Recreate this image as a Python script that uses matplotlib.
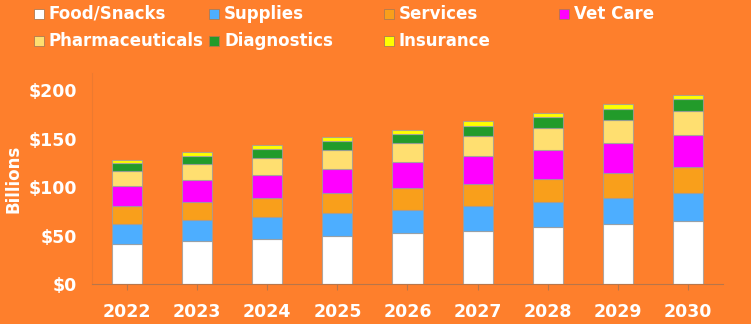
import numpy as np
import matplotlib
matplotlib.use('Agg')
import matplotlib.pyplot as plt
from matplotlib.patches import Rectangle

years = ['2022', '2023', '2024', '2025', '2026', '2027', '2028', '2029', '2030']
series = ['Food/Snacks', 'Supplies', 'Services', 'Vet Care',
          'Pharmaceuticals', 'Diagnostics', 'Insurance']

food = [41.2, 44.3, 46.4, 49.5, 52.2, 55.0, 58.4, 61.5, 64.9]
supplies = [20.7, 22.0, 22.6, 23.4, 24.4, 25.8, 26.1, 27.5, 28.9]
services = [18.5, 18.6, 20.0, 20.9, 22.4, 23.0, 24.5, 25.4, 26.8]
vet_care = [20.6, 22.3, 23.7, 25.4, 26.8, 28.2, 29.8, 31.6, 33.0]
pharma = [16.2, 16.8, 17.5, 18.9, 20.2, 20.9, 22.4, 23.8, 25.1]
diagnostics = [7.8, 8.3, 9.0, 9.3, 9.3, 10.3, 11.0, 11.3, 12.3]
insurance = [3.2, 4.5, 4.1, 4.1, 3.8, 4.8, 4.4, 4.5, 4.2]

values = [food, supplies, services, vet_care, pharma, diagnostics, insurance]
colors = ['#ffffff', '#4daeff', '#f99f1b', '#ff00ff', '#ffdf70', '#229b2a', '#ffff00']

bg = '#fe7f2c'
fig = plt.figure(figsize=(7.51, 3.24), dpi=100, facecolor=bg)
ax = fig.add_axes([0.1225, 0.1235, 0.8402, 0.651], facecolor=bg)

x = np.arange(len(years))
bottom = np.zeros(len(years))
for name, vals, col in zip(series, values, colors):
    ax.bar(x, vals, width=0.43, bottom=bottom, color=col,
           edgecolor=(0.62, 0.62, 0.62, 0.8), linewidth=0.8, label=name)
    bottom += np.array(vals)

ax.set_xlim(-0.5, 8.5)
ax.set_ylim(0, 218)
ax.set_xticks(x)
ax.set_xticklabels(years)
ax.set_yticks([0, 50, 100, 150, 200])
ax.set_yticklabels(['$0', '$50', '$100', '$150', '$200'])
ax.tick_params(axis='x', colors='#b8764a', length=4, width=0.8, pad=10,
               labelsize=12.5, labelcolor='white')
ax.tick_params(axis='y', length=0, pad=11, labelsize=12.5, labelcolor='white')
for lab in ax.get_xticklabels() + ax.get_yticklabels():
    lab.set_fontweight('bold')
ax.set_ylabel('Billions', color='white', fontsize=12, fontweight='bold', labelpad=4)

for s in ['top', 'right']:
    ax.spines[s].set_visible(False)
ax.spines['bottom'].set_color('#b8764a')
ax.spines['bottom'].set_linewidth(0.8)
ax.spines['left'].set_color('#ec7a30')
ax.spines['left'].set_linewidth(0.8)

# legend laid out as a fixed grid, 4 columns
W, H = 751, 324
for i, (name, col) in enumerate(zip(series, colors)):
    cx = 34 + 175 * (i % 4)
    cy = 14 + 27 * (i // 4)
    fig.patches.append(Rectangle(((cx) / W, 1 - (cy + 5) / H), 10 / W, 10 / H,
                                 transform=fig.transFigure, facecolor=col,
                                 edgecolor='#b07a50', linewidth=0.6))
    fig.text((cx + 15) / W, 1 - cy / H, name, color='white', fontsize=12,
             fontweight='bold', va='center', ha='left')

fig.savefig('out.png', dpi=100, facecolor=bg)
